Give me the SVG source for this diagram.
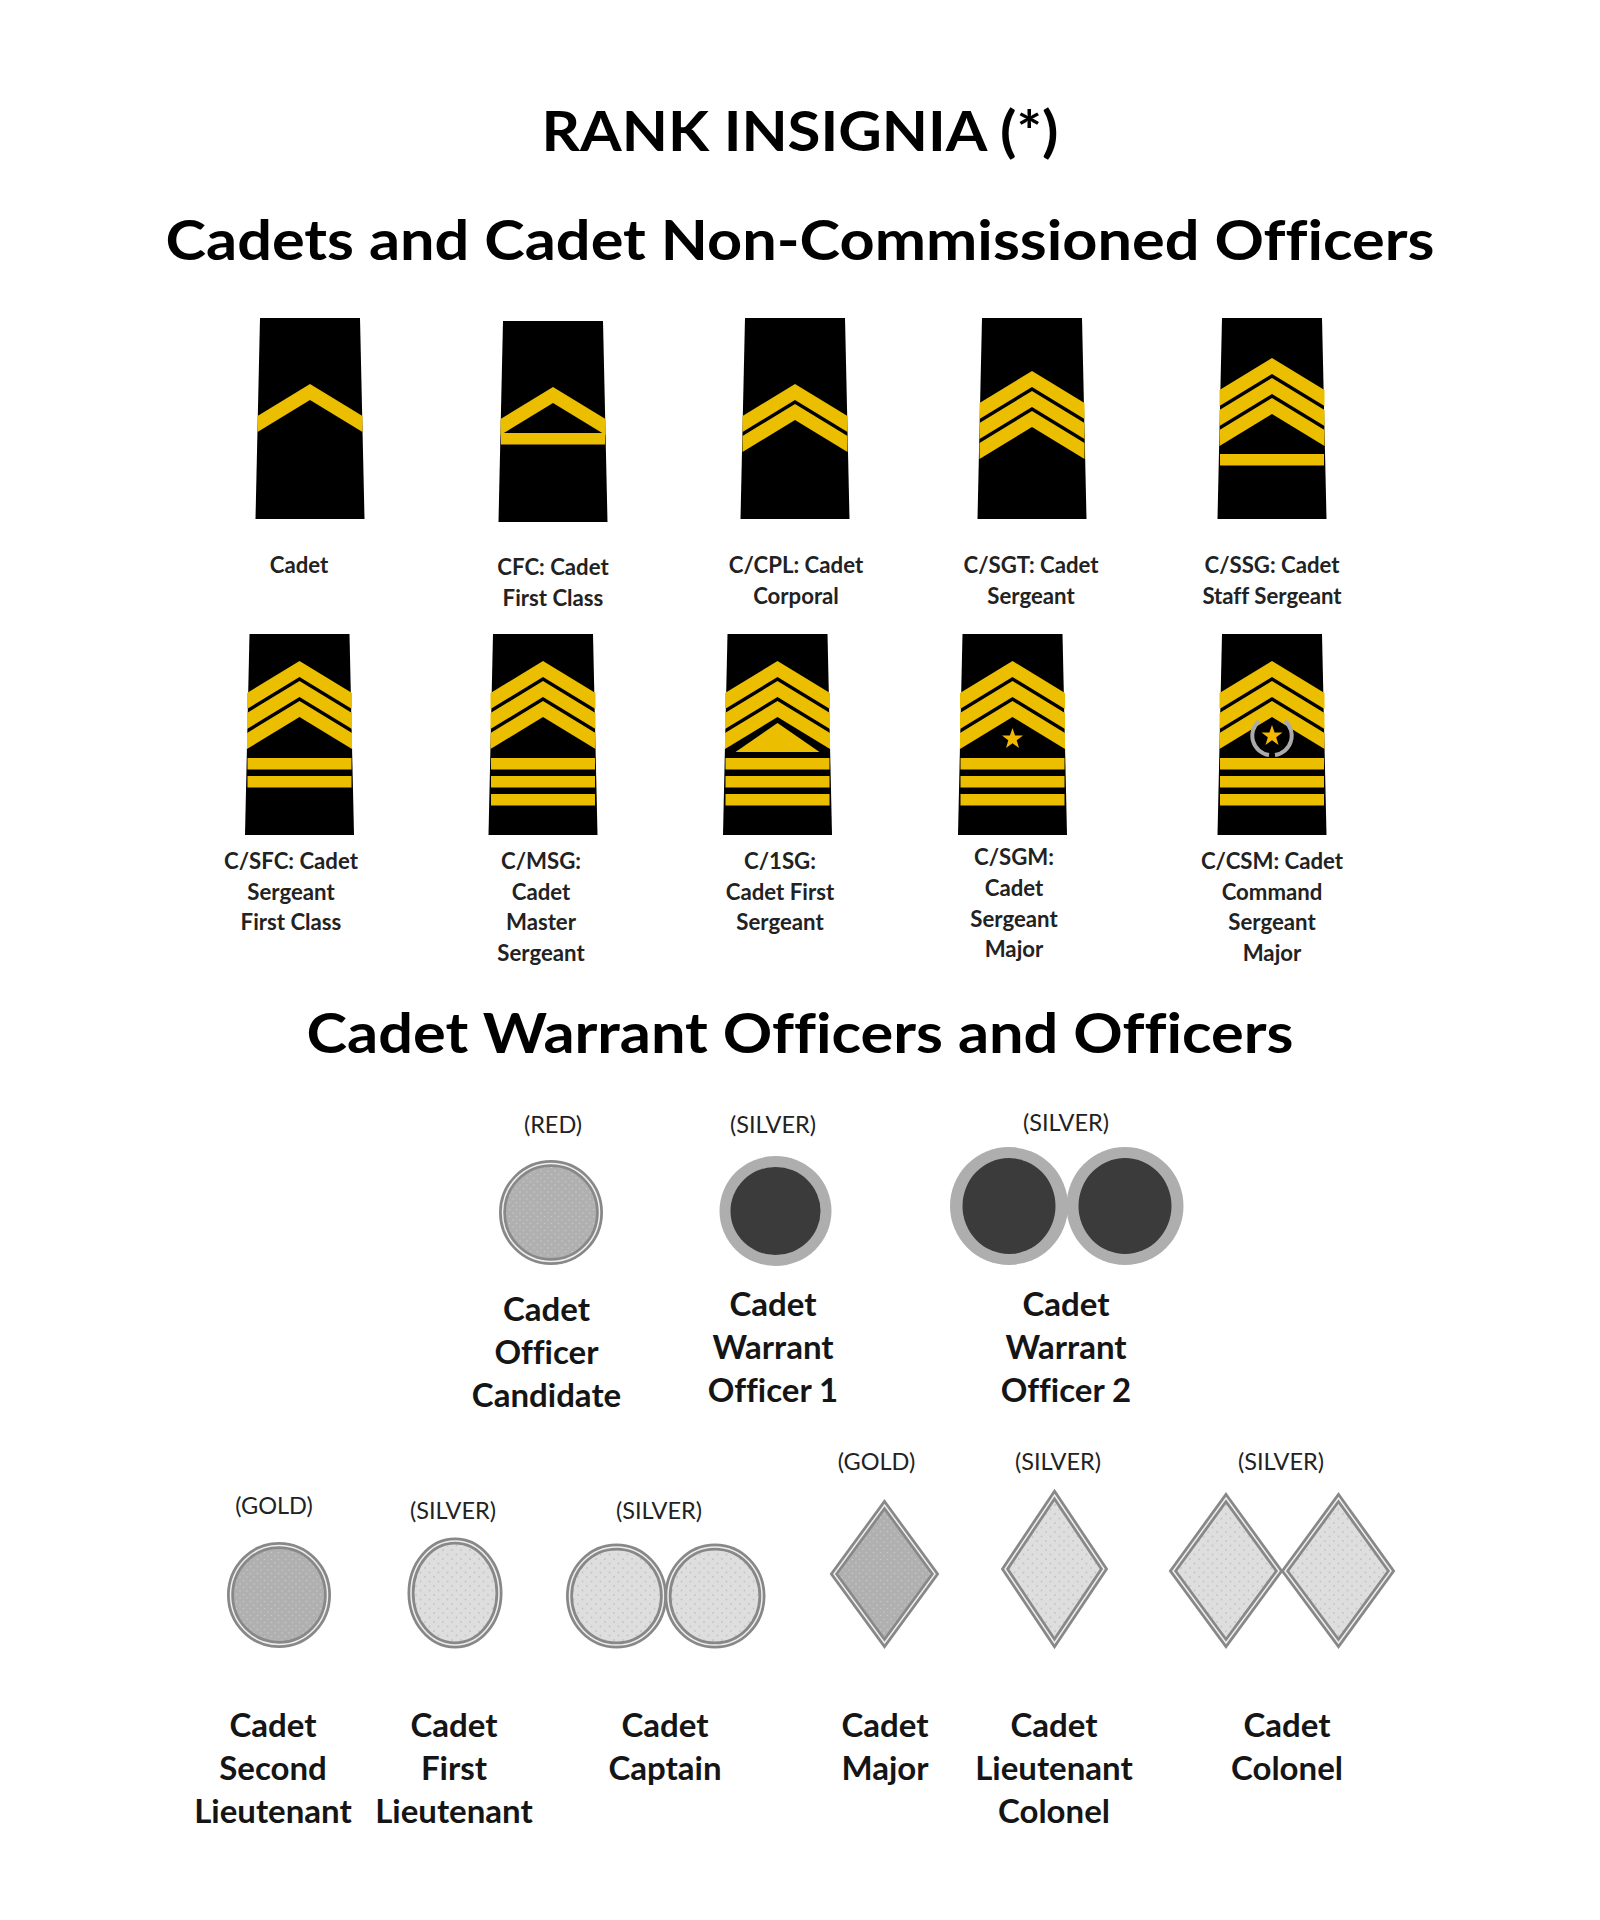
<svg xmlns="http://www.w3.org/2000/svg" width="1600" height="1920" viewBox="0 0 1600 1920">
<style>
text{font-family:"Lato","Noto Sans","Liberation Sans",sans-serif;font-weight:700;fill:#111;text-anchor:middle;font-variant-ligatures:none}
.h{font-size:56px;fill:#000}
.s{font-size:22.2px;fill:#222}
.c{font-size:23.5px;fill:#222;font-weight:400}
.b{font-size:33px;fill:#151515}
.ep{fill:#000}
.y{fill:#EBBE00}
.st{fill:#F2B800}
.o{stroke:#888;stroke-width:7}
.i{fill:none;stroke:#eee;stroke-width:1.5}
.ring{fill:#aeaeae}
.dark{fill:#3a3a3a}
.soft{filter:url(#blur)}
</style>
<defs>
<filter id="blur" x="-5%" y="-5%" width="110%" height="110%"><feGaussianBlur stdDeviation="0.7"/></filter>
<pattern id="dl" width="9" height="9" patternUnits="userSpaceOnUse"><rect width="9" height="9" fill="#dedede"/><circle cx="2" cy="2" r="0.9" fill="#c4c4c4"/><circle cx="6.500" cy="6.500" r="0.9" fill="#c4c4c4"/></pattern>
<pattern id="dm" width="7" height="7" patternUnits="userSpaceOnUse"><rect width="7" height="7" fill="#b0b0b0"/><circle cx="2" cy="2" r="0.8" fill="#c8c8c8"/><circle cx="5.500" cy="5.500" r="0.8" fill="#c8c8c8"/></pattern>
<path id="e" class="ep" d="M-50 0H50L54.500 201H-54.500Z"/>
<path id="ch" class="y" d="M-52.500 32L0 0L52.500 32V48L0 16L-52.500 48Z"/>
<rect id="bar" class="y" x="-52" y="0" width="104" height="11.500"/>
<polygon id="star" class="st" points="0,-11 2.600,-3.400 10.500,-3.400 4.200,1.300 6.500,8.900 0,4.200 -6.500,8.900 -4.200,1.300 -10.500,-3.400 -2.600,-3.400"/>
</defs>
<rect width="1600" height="1920" fill="#fff"/>
<g id="headings">
<text class="h" x="800" y="151" textLength="517" lengthAdjust="spacingAndGlyphs">RANK INSIGNIA (*)</text>
<text class="h" x="800" y="260" textLength="1269" lengthAdjust="spacingAndGlyphs">Cadets and Cadet Non-Commissioned Officers</text>
<text class="h" x="800" y="1053" textLength="987" lengthAdjust="spacingAndGlyphs">Cadet Warrant Officers and Officers</text>
</g>
<g id="connectors"/>
<g id="r-cadet" class="soft"><g transform="translate(310 318)"><use href="#e"/><use href="#ch" y="66"/></g></g>
<g id="r-cfc" class="soft"><g transform="translate(553 321)"><use href="#e"/><use href="#ch" y="66"/><use href="#bar" y="112"/></g></g>
<g id="r-cpl" class="soft"><g transform="translate(795 318)"><use href="#e"/><use href="#ch" y="66"/><use href="#ch" y="86"/></g></g>
<g id="r-sgt" class="soft"><g transform="translate(1032 318)"><use href="#e"/><use href="#ch" y="53"/><use href="#ch" y="73"/><use href="#ch" y="93"/></g></g>
<g id="r-ssg" class="soft"><g transform="translate(1272 318)"><use href="#e"/><use href="#ch" y="40"/><use href="#ch" y="60"/><use href="#ch" y="80"/><use href="#bar" y="136"/></g></g>
<g id="r-sfc" class="soft"><g transform="translate(299.500 634)"><use href="#e"/><use href="#ch" y="27"/><use href="#ch" y="47"/><use href="#ch" y="67"/><use href="#bar" y="124"/><use href="#bar" y="142"/></g></g>
<g id="r-msg" class="soft"><g transform="translate(543 634)"><use href="#e"/><use href="#ch" y="27"/><use href="#ch" y="47"/><use href="#ch" y="67"/><use href="#bar" y="124"/><use href="#bar" y="142"/><use href="#bar" y="160"/></g></g>
<g id="r-1sg" class="soft"><g transform="translate(777.500 634)"><use href="#e"/><use href="#ch" y="27"/><use href="#ch" y="47"/><use href="#ch" y="67"/><polygon class="y" points="0,89 42,118 -42,118"/><use href="#bar" y="124"/><use href="#bar" y="142"/><use href="#bar" y="160"/></g></g>
<g id="r-sgm" class="soft"><g transform="translate(1012.500 634)"><use href="#e"/><use href="#ch" y="27"/><use href="#ch" y="47"/><use href="#ch" y="67"/><use href="#star" y="105"/><use href="#bar" y="124"/><use href="#bar" y="142"/><use href="#bar" y="160"/></g></g>
<g id="r-csm" class="soft"><g transform="translate(1272 634)"><use href="#e"/><use href="#ch" y="27"/><use href="#ch" y="47"/><use href="#ch" y="67"/><path d="M-13 87A19.500 19.500 0 0 0 -3 121M13 87A19.500 19.500 0 0 1 3 121" fill="none" stroke="#aaa" stroke-width="4"/><use href="#star" y="102"/><use href="#bar" y="124"/><use href="#bar" y="142"/><use href="#bar" y="160"/></g></g>
<g id="labels-ncos">
<text class="s" x="299" y="573">Cadet</text>
<text class="s" x="553" y="575">CFC: Cadet</text><text class="s" x="553" y="606">First Class</text>
<text class="s" x="796" y="573">C/CPL: Cadet</text><text class="s" x="796" y="604">Corporal</text>
<text class="s" x="1031" y="573">C/SGT: Cadet</text><text class="s" x="1031" y="604">Sergeant</text>
<text class="s" x="1272" y="573">C/SSG: Cadet</text><text class="s" x="1272" y="604">Staff Sergeant</text>
<text class="s" x="291" y="869">C/SFC: Cadet</text><text class="s" x="291" y="900">Sergeant</text><text class="s" x="291" y="930">First Class</text>
<text class="s" x="541" y="869">C/MSG:</text><text class="s" x="541" y="900">Cadet</text><text class="s" x="541" y="930">Master</text><text class="s" x="541" y="961">Sergeant</text>
<text class="s" x="780" y="869">C/1SG:</text><text class="s" x="780" y="900">Cadet First</text><text class="s" x="780" y="930">Sergeant</text>
<text class="s" x="1014" y="865">C/SGM:</text><text class="s" x="1014" y="896">Cadet</text><text class="s" x="1014" y="927">Sergeant</text><text class="s" x="1014" y="957">Major</text>
<text class="s" x="1272" y="869">C/CSM: Cadet</text><text class="s" x="1272" y="900">Command</text><text class="s" x="1272" y="930">Sergeant</text><text class="s" x="1272" y="961">Major</text>
</g>
<g id="o-coc" class="soft"><ellipse class="o" cx="551" cy="1212.500" rx="48.500" ry="49" fill="url(#dm)"/><ellipse class="i" cx="551" cy="1212.500" rx="48.500" ry="49"/></g>
<g id="o-wo1" class="soft"><ellipse class="ring" cx="775.500" cy="1211" rx="56" ry="55"/><ellipse class="dark" cx="775.500" cy="1211" rx="45" ry="44"/></g>
<g id="o-wo2" class="soft"><ellipse class="ring" cx="1009" cy="1206" rx="59" ry="59"/><ellipse class="dark" cx="1009" cy="1206" rx="46.500" ry="48"/><ellipse class="ring" cx="1125" cy="1206" rx="58.500" ry="59"/><ellipse class="dark" cx="1125" cy="1206" rx="46.500" ry="48"/></g>
<g id="o-2lt" class="soft"><ellipse class="o" cx="279" cy="1595" rx="48.500" ry="49.500" fill="url(#dm)"/><ellipse class="i" cx="279" cy="1595" rx="48.500" ry="49.500"/></g>
<g id="o-1lt" class="soft"><ellipse class="o" cx="455" cy="1593" rx="44" ry="52" fill="url(#dl)"/><ellipse class="i" cx="455" cy="1593" rx="44" ry="52"/></g>
<g id="o-cpt" class="soft"><ellipse class="o" cx="616.500" cy="1596" rx="47" ry="49" fill="url(#dl)"/><ellipse class="i" cx="616.500" cy="1596" rx="47" ry="49"/><ellipse class="o" cx="715" cy="1596" rx="47" ry="49" fill="url(#dl)"/><ellipse class="i" cx="715" cy="1596" rx="47" ry="49"/></g>
<g id="o-maj" class="soft"><path class="o" d="M884.500 1505L935 1574L884.500 1643L834 1574Z" fill="url(#dm)"/><path class="i" d="M884.500 1505L935 1574L884.500 1643L834 1574Z"/></g>
<g id="o-ltc" class="soft"><path class="o" d="M1054.500 1495L1104 1569L1054.500 1643L1005 1569Z" fill="url(#dl)"/><path class="i" d="M1054.500 1495L1104 1569L1054.500 1643L1005 1569Z"/></g>
<g id="o-col" class="soft"><path class="o" d="M1226 1498L1279 1571L1226 1643L1173 1571Z" fill="url(#dl)"/><path class="i" d="M1226 1498L1279 1571L1226 1643L1173 1571Z"/><path class="o" d="M1338.500 1498L1391 1571L1338.500 1643L1285 1571Z" fill="url(#dl)"/><path class="i" d="M1338.500 1498L1391 1571L1338.500 1643L1285 1571Z"/></g>
<g id="labels-officers">
<text class="c" x="553" y="1133">(RED)</text>
<text class="c" x="773" y="1133">(SILVER)</text>
<text class="c" x="1066" y="1131">(SILVER)</text>
<text class="c" x="274" y="1514">(GOLD)</text>
<text class="c" x="453" y="1519">(SILVER)</text>
<text class="c" x="659" y="1519">(SILVER)</text>
<text class="c" x="876.500" y="1470">(GOLD)</text>
<text class="c" x="1058" y="1470">(SILVER)</text>
<text class="c" x="1281" y="1470">(SILVER)</text>
<text class="b" x="546.500" y="1321">Cadet</text><text class="b" x="546.500" y="1364">Officer</text><text class="b" x="546.500" y="1407">Candidate</text>
<text class="b" x="773" y="1316">Cadet</text><text class="b" x="773" y="1359">Warrant</text><text class="b" x="773" y="1402">Officer 1</text>
<text class="b" x="1066" y="1316">Cadet</text><text class="b" x="1066" y="1359">Warrant</text><text class="b" x="1066" y="1402">Officer 2</text>
<text class="b" x="273" y="1737">Cadet</text><text class="b" x="273" y="1780">Second</text><text class="b" x="273" y="1823">Lieutenant</text>
<text class="b" x="454" y="1737">Cadet</text><text class="b" x="454" y="1780">First</text><text class="b" x="454" y="1823">Lieutenant</text>
<text class="b" x="665" y="1737">Cadet</text><text class="b" x="665" y="1780">Captain</text>
<text class="b" x="885" y="1737">Cadet</text><text class="b" x="885" y="1780">Major</text>
<text class="b" x="1054" y="1737">Cadet</text><text class="b" x="1054" y="1780">Lieutenant</text><text class="b" x="1054" y="1823">Colonel</text>
<text class="b" x="1287" y="1737">Cadet</text><text class="b" x="1287" y="1780">Colonel</text>
</g>
</svg>
